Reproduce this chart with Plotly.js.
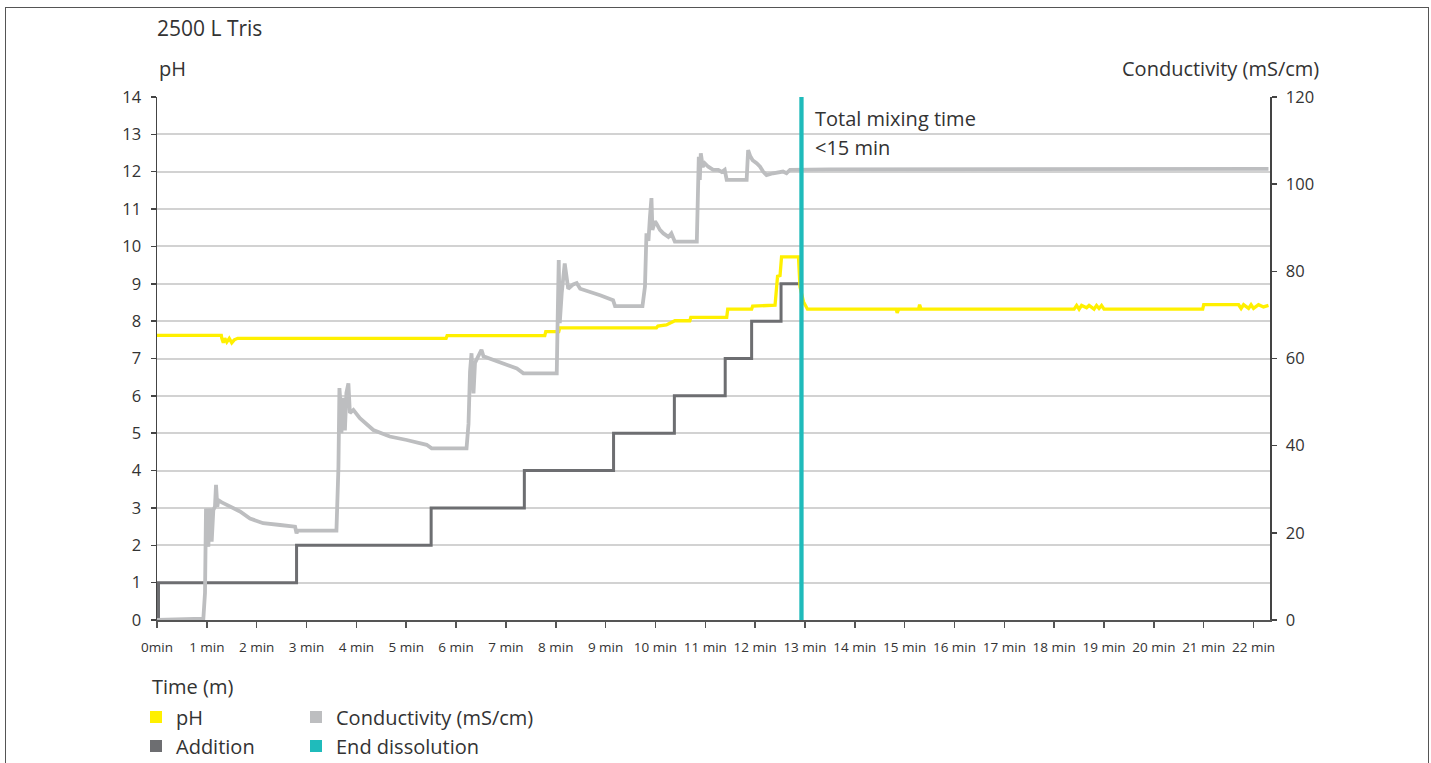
<!DOCTYPE html>
<html>
<head>
<meta charset="utf-8">
<script src="https://cdn.plot.ly/plotly-3.0.1.min.js"></script>
<style>
  html, body { margin: 0; padding: 0; background: #fff; }
  #wrap { position: relative; width: 1431px; height: 763px; overflow: hidden; }
  #frame { position: absolute; left: 5px; top: 7px; width: 1424px; height: 800px; border: 1px solid #555; box-sizing: border-box; pointer-events: none; }
  #chart { position: absolute; left: 0; top: 0; width: 1431px; height: 763px; }
</style>
</head>
<body>
<div id="wrap">
  <div id="chart"></div>
  <div id="frame"></div>
</div>
<script>
// ---- data (time in minutes) ----
const tickMinutes = [0,1,2,3,4,5,6,7,8,9,10,11,12,13,14,15,16,17,18,19,20,21,22];
const tickLabels = ["0min","1 min","2 min","3 min","4 min","5 min","6 min","7 min","8 min","9 min","10 min","11 min","12 min","13 min","14 min","15 min","16 min","17 min","18 min","19 min","20 min","21 min","22 min"];

const phTime = [0,1.29,1.30,1.33,1.36,1.40,1.45,1.50,1.55,1.62,5.80,5.82,7.78,7.80,8.06,8.08,10.02,10.05,10.22,10.39,10.69,10.71,11.43,11.45,11.93,11.95,12.40,12.45,12.50,12.53,12.87,12.90,12.97,13.05,14.83,14.85,14.88,15.28,15.30,15.33,18.40,18.45,18.50,18.55,18.65,18.70,18.80,18.85,18.90,18.95,19.00,20.98,21.00,21.70,21.75,21.80,21.90,21.95,22.00,22.10,22.20,22.30];
const phValue = [7.62,7.62,7.54,7.42,7.54,7.44,7.54,7.42,7.50,7.54,7.54,7.61,7.61,7.72,7.72,7.82,7.82,7.87,7.90,8.01,8.01,8.10,8.10,8.32,8.32,8.40,8.43,9.20,9.22,9.72,9.72,8.92,8.52,8.32,8.32,8.22,8.32,8.32,8.44,8.32,8.32,8.42,8.32,8.42,8.36,8.42,8.32,8.42,8.34,8.42,8.32,8.32,8.44,8.44,8.34,8.44,8.34,8.44,8.34,8.44,8.38,8.42];

const condTime = [0,0.93,0.963,0.983,1.03,1.063,1.097,1.13,1.163,1.184,1.21,1.23,1.30,1.40,1.665,1.866,2.13,2.47,2.77,2.80,2.82,3.60,
  3.64,3.66,3.68,3.70,3.74,3.77,3.80,3.84,3.87,3.94,4.07,4.34,4.67,5.01,5.41,5.51,6.21,
  6.25,6.28,6.31,6.35,6.38,6.45,6.51,6.55,6.68,6.95,7.22,7.35,8.02,
  8.04,8.06,8.08,8.12,8.18,8.25,8.35,8.42,8.49,8.69,8.89,9.15,9.19,9.74,
  9.79,9.82,9.86,9.89,9.92,9.94,9.99,10.02,10.09,10.16,10.26,10.32,10.39,10.83,
  10.85,10.87,10.89,10.91,10.95,10.99,11.06,11.16,11.26,11.33,11.39,11.43,11.83,
  11.86,11.90,11.95,12.03,12.10,12.16,12.23,12.36,12.56,12.63,12.70,13.50,16.00,18.00,20.00,22.30];
const condValue = [0,0.3,6.2,25.6,16.8,25.6,18.0,25.2,26.0,31.0,26.0,27.5,27.0,26.4,24.9,23.3,22.2,21.8,21.4,19.9,20.5,20.5,
  35.0,53.2,50.0,42.9,51.0,43.5,52.1,54.3,47.5,48.2,46.3,43.6,42.1,41.3,40.2,39.4,39.4,
  45.0,57.0,61.2,52.0,59.0,60.4,62.0,60.5,60.0,58.9,57.7,56.6,56.6,
  70.0,82.6,68.1,75.0,81.8,76.0,77.0,77.3,76.0,75.3,74.5,73.4,72.0,72.0,
  76.5,88.7,87.0,92.5,96.8,89.5,91.5,91.0,89.5,88.7,87.9,88.7,86.8,86.8,
  95.0,106.3,101.0,107.1,104.0,104.8,104.0,103.3,103.3,102.8,103.3,101.0,101.0,
  107.8,106.5,105.5,104.8,104.0,102.9,102.1,102.5,102.9,102.5,103.3,103.4,103.4,103.5,103.5,103.5];

const addTime = [0,0.03,2.80,5.50,7.37,9.16,10.38,11.40,11.93,12.52,12.90];
const addValue = [0,1,2,3,4,5,6,7,8,9,9];

const endDissolutionTime = 12.93;

// ---- styling ----
const FONT = "'Open Sans', Lato, sans-serif";
const TXT = "#333333";
const C_PH = "#FFF000", C_COND = "#BDBEC0", C_ADD = "#6D6E71", C_END = "#1FBBBB";
const FS = 20;

const traces = [
  {x: addTime, y: addValue, type: 'scatter', mode: 'lines', line: {color: C_ADD, width: 3, shape: 'hv'}, showlegend: false, yaxis: 'y', hoverinfo: 'skip'},
  {x: phTime, y: phValue, type: 'scatter', mode: 'lines', line: {color: C_PH, width: 3.3}, showlegend: false, yaxis: 'y', hoverinfo: 'skip'},
  {x: condTime, y: condValue, type: 'scatter', mode: 'lines', line: {color: C_COND, width: 3.8}, showlegend: false, yaxis: 'y2', hoverinfo: 'skip'},
  {x: [endDissolutionTime, endDissolutionTime], y: [0, 120], type: 'scatter', mode: 'lines', line: {color: C_END, width: 4.3}, showlegend: false, yaxis: 'y2', hoverinfo: 'skip'},
  // legend entries (square swatches), one legend box each for exact 2x2 placement
  {x: [null], y: [null], type: 'scatter', mode: 'markers', name: 'pH', marker: {symbol: 'square', size: 12, color: C_PH}, legend: 'legend'},
  {x: [null], y: [null], type: 'scatter', mode: 'markers', name: 'Conductivity (mS/cm)', marker: {symbol: 'square', size: 12, color: C_COND}, legend: 'legend2'},
  {x: [null], y: [null], type: 'scatter', mode: 'markers', name: 'Addition', marker: {symbol: 'square', size: 12, color: C_ADD}, legend: 'legend3'},
  {x: [null], y: [null], type: 'scatter', mode: 'markers', name: 'End dissolution', marker: {symbol: 'square', size: 12, color: C_END}, legend: 'legend4'}
];

const W = 1113, H = 523, L = 157, T = 97;
const px = (p) => (p - L) / W;
const py = (p) => (T + H - p) / H;

const legendBase = {orientation: 'v', xanchor: 'left', yanchor: 'middle',
  font: {family: FONT, size: FS, color: TXT}, bgcolor: 'rgba(0,0,0,0)', itemclick: false, itemdoubleclick: false};
const lg = (x, y) => Object.assign({}, legendBase, {x: px(x), y: py(y)});

const layout = {
  width: 1431, height: 763,
  margin: {l: 157, r: 161, t: 97, b: 143, pad: 0, autoexpand: false},
  paper_bgcolor: '#ffffff', plot_bgcolor: '#ffffff',
  font: {family: FONT, color: TXT},
  title: {text: '2500 L Tris', xref: 'container', x: 157/1431, xanchor: 'left', yref: 'container', y: 1 - 29/763, yanchor: 'middle', font: {family: FONT, size: 21, color: TXT}},
  showlegend: true,
  legend: lg(136, 717),
  legend2: lg(296, 717),
  legend3: lg(136, 746),
  legend4: lg(296, 746),
  xaxis: {range: [0, 22.33], tickvals: tickMinutes, ticktext: tickLabels, ticks: 'outside', ticklen: 6, tickwidth: 1.5, tickcolor: '#555',
    showline: true, linecolor: '#555', linewidth: 2, showgrid: false, zeroline: false, tickangle: 0,
    tickfont: {family: FONT, size: 13.5, color: TXT}, ticklabelstandoff: 8, fixedrange: true},
  yaxis: {range: [0, 14], dtick: 1, tick0: 0, ticks: 'outside', ticklen: 5, tickwidth: 1.5, tickcolor: '#444',
    showline: true, linecolor: '#444', linewidth: 1.5, showgrid: true, gridcolor: '#D2D2D2', gridwidth: 2, zeroline: false,
    tickfont: {family: FONT, size: 16.5, color: TXT}, ticklabelstandoff: 6, fixedrange: true},
  yaxis2: {range: [0, 120], dtick: 20, tick0: 0, overlaying: 'y', side: 'right', ticks: 'outside', ticklen: 5, tickwidth: 1.5, tickcolor: '#444',
    showline: true, linecolor: '#444', linewidth: 1.5, showgrid: false, zeroline: false,
    tickfont: {family: FONT, size: 16.5, color: TXT}, ticklabelstandoff: 6, fixedrange: true},
  annotations: [
    {text: 'pH', xref: 'paper', yref: 'paper', x: px(157), y: py(68), xanchor: 'left', yanchor: 'middle', showarrow: false, font: {family: FONT, size: FS, color: TXT}},
    {text: 'Conductivity (mS/cm)', xref: 'paper', yref: 'paper', x: px(1321), y: py(68), xanchor: 'right', yanchor: 'middle', showarrow: false, font: {family: FONT, size: FS, color: TXT}},
    {text: 'Time (m)', xref: 'paper', yref: 'paper', x: px(150), y: py(686), xanchor: 'left', yanchor: 'middle', showarrow: false, font: {family: FONT, size: FS, color: TXT}},
    {text: 'Total mixing time', xref: 'paper', yref: 'paper', x: px(813), y: py(119), xanchor: 'left', yanchor: 'middle', showarrow: false, font: {family: FONT, size: FS, color: TXT}},
    {text: '&lt;15 min', xref: 'paper', yref: 'paper', x: px(813), y: py(147), xanchor: 'left', yanchor: 'middle', showarrow: false, font: {family: FONT, size: FS, color: TXT}}
  ]
};

Plotly.newPlot('chart', traces, layout, {displayModeBar: false, staticPlot: true});
</script>
</body>
</html>
